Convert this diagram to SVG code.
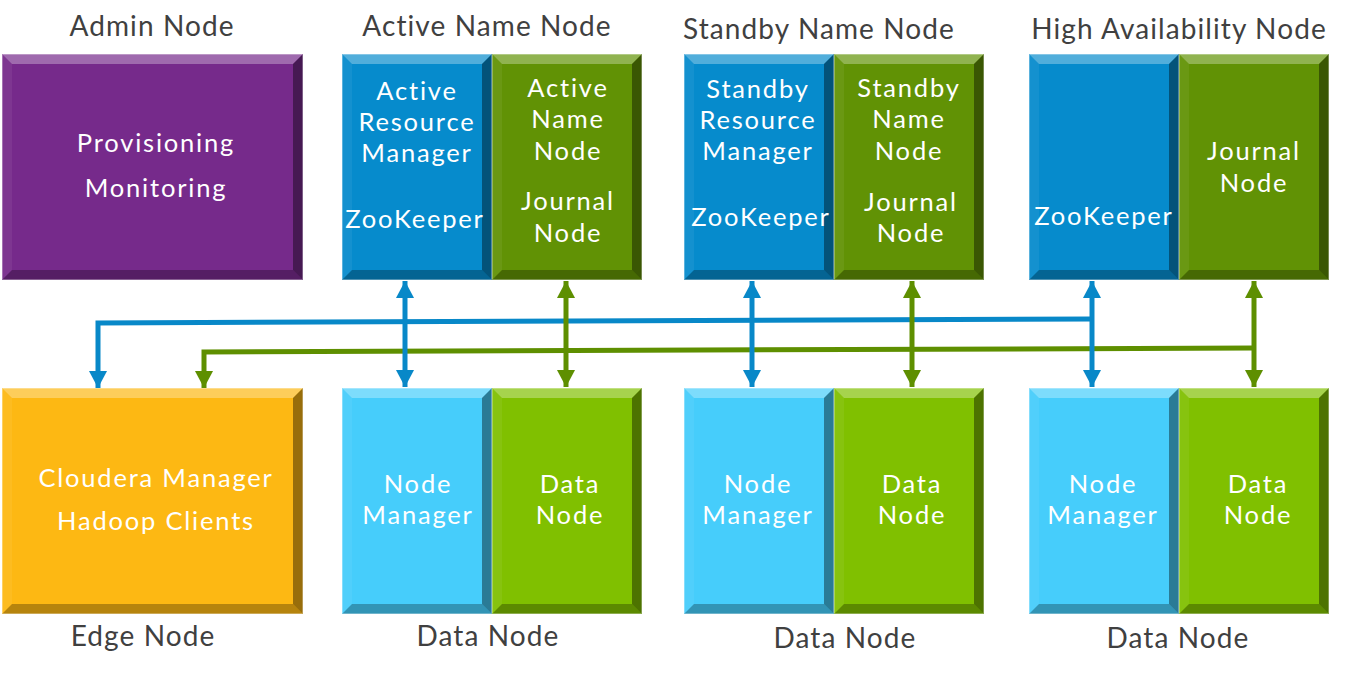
<svg xmlns="http://www.w3.org/2000/svg" xmlns:xlink="http://www.w3.org/1999/xlink" width="1350" height="673" viewBox="0 0 1350 673">
<style>
.t{font-family:Lato,"Open Sans",sans-serif;font-size:28px;letter-spacing:1.1px;fill:#404040;text-anchor:middle}
.w{font-family:Lato,"Open Sans",sans-serif;font-size:25.5px;letter-spacing:1.8px;fill:#ffffff;text-anchor:middle}
.cb{fill:none;stroke:#0888c8;stroke-width:5}
.cg{fill:none;stroke:#5e8f00;stroke-width:5}
</style>
<defs>
<g id="bev150">
<polygon points="0,0 150,0 140,10 10,10" fill="#fff" fill-opacity="0.3"/>
<polygon points="0,0 10,10 10,216 0,226" fill="#fff" fill-opacity="0.06"/>
<polygon points="150,0 150,226 140,216 140,10" fill="#000" fill-opacity="0.4"/>
<polygon points="0,226 10,216 140,216 150,226" fill="#000" fill-opacity="0.28"/>
<rect x="0.5" y="0.5" width="149" height="225" fill="none" stroke="#fff" stroke-opacity="0.3"/>
</g>
<g id="bev301">
<polygon points="0,0 301,0 291,10 10,10" fill="#fff" fill-opacity="0.3"/>
<polygon points="0,0 10,10 10,216 0,226" fill="#fff" fill-opacity="0.06"/>
<polygon points="301,0 301,226 291,216 291,10" fill="#000" fill-opacity="0.4"/>
<polygon points="0,226 10,216 291,216 301,226" fill="#000" fill-opacity="0.28"/>
<rect x="0.5" y="0.5" width="300" height="225" fill="none" stroke="#fff" stroke-opacity="0.3"/>
</g>
<marker id="ab" viewBox="0 0 17 18" refX="17" refY="9" markerWidth="17" markerHeight="18" markerUnits="userSpaceOnUse" orient="auto-start-reverse"><path d="M0,0 L17,9 L0,18 z" fill="#0888c8"/></marker>
<marker id="ag" viewBox="0 0 17 18" refX="17" refY="9" markerWidth="17" markerHeight="18" markerUnits="userSpaceOnUse" orient="auto-start-reverse"><path d="M0,0 L17,9 L0,18 z" fill="#5e8f00"/></marker>
</defs>
<rect width="1350" height="673" fill="#fff"/>

<g id="titles">
<text class="t" x="152" y="36">Admin Node</text>
<text class="t" x="487" y="36">Active Name Node</text>
<text class="t" x="819" y="39">Standby Name Node</text>
<text class="t" x="1179" y="39">High Availability Node</text>
<text class="t" x="143" y="646">Edge Node</text>
<text class="t" x="488" y="646">Data Node</text>
<text class="t" x="845" y="648">Data Node</text>
<text class="t" x="1178" y="648">Data Node</text>
</g>

<g id="connectors">
<polyline class="cb" points="1092,319 98,323 98,388" marker-end="url(#ab)" stroke-linejoin="miter"/>
<polyline class="cg" points="1254,348 204,352 204,388" marker-end="url(#ag)" stroke-linejoin="miter"/>
<line class="cb" x1="405" y1="281" x2="405" y2="387" marker-start="url(#ab)" marker-end="url(#ab)"/>
<line class="cg" x1="566" y1="281" x2="566" y2="387" marker-start="url(#ag)" marker-end="url(#ag)"/>
<line class="cb" x1="752" y1="281" x2="752" y2="387" marker-start="url(#ab)" marker-end="url(#ab)"/>
<line class="cg" x1="912" y1="281" x2="912" y2="387" marker-start="url(#ag)" marker-end="url(#ag)"/>
<line class="cb" x1="1092" y1="281" x2="1092" y2="387" marker-start="url(#ab)" marker-end="url(#ab)"/>
<line class="cg" x1="1254" y1="281" x2="1254" y2="387" marker-start="url(#ag)" marker-end="url(#ag)"/>
</g>

<g id="admin-node">
<rect x="2" y="54" width="301" height="226" fill="#762a8b"/>
<use xlink:href="#bev301" x="2" y="54"/>
<text class="w" x="156" y="152">Provisioning</text>
<text class="w" x="156" y="197">Monitoring</text>
</g>

<g id="active-resource-manager">
<rect x="342" y="54" width="150" height="226" fill="#068bcc"/>
<use xlink:href="#bev150" x="342" y="54"/>
<text class="w" x="417" y="100">Active</text>
<text class="w" x="417" y="131">Resource</text>
<text class="w" x="417" y="162">Manager</text>
<text class="w" x="415" y="228">ZooKeeper</text>
</g>
<g id="active-name-node">
<rect x="492" y="54" width="150" height="226" fill="#619205"/>
<use xlink:href="#bev150" x="492" y="54"/>
<text class="w" x="568" y="97">Active</text>
<text class="w" x="568" y="128">Name</text>
<text class="w" x="568" y="160">Node</text>
<text class="w" x="568" y="210">Journal</text>
<text class="w" x="568" y="242">Node</text>
</g>

<g id="standby-resource-manager">
<rect x="684" y="54" width="150" height="226" fill="#068bcc"/>
<use xlink:href="#bev150" x="684" y="54"/>
<text class="w" x="758" y="98">Standby</text>
<text class="w" x="758" y="129">Resource</text>
<text class="w" x="758" y="160">Manager</text>
<text class="w" x="761" y="226">ZooKeeper</text>
</g>
<g id="standby-name-node">
<rect x="834" y="54" width="150" height="226" fill="#619205"/>
<use xlink:href="#bev150" x="834" y="54"/>
<text class="w" x="909" y="97">Standby</text>
<text class="w" x="909" y="128">Name</text>
<text class="w" x="909" y="160">Node</text>
<text class="w" x="911" y="211">Journal</text>
<text class="w" x="911" y="242">Node</text>
</g>

<g id="ha-zookeeper">
<rect x="1029" y="54" width="150" height="226" fill="#068bcc"/>
<use xlink:href="#bev150" x="1029" y="54"/>
<text class="w" x="1104" y="225">ZooKeeper</text>
</g>
<g id="ha-journal-node">
<rect x="1179" y="54" width="150" height="226" fill="#619205"/>
<use xlink:href="#bev150" x="1179" y="54"/>
<text class="w" x="1254" y="160">Journal</text>
<text class="w" x="1254" y="192">Node</text>
</g>

<g id="edge-node">
<rect x="2" y="388" width="301" height="226" fill="#fdb813"/>
<use xlink:href="#bev301" x="2" y="388"/>
<text class="w" x="156" y="487">Cloudera Manager</text>
<text class="w" x="156" y="530">Hadoop Clients</text>
</g>

<g id="node-manager-1">
<rect x="342" y="388" width="150" height="226" fill="#46cdfb"/>
<use xlink:href="#bev150" x="342" y="388"/>
<text class="w" x="418" y="493">Node</text>
<text class="w" x="418" y="524">Manager</text>
</g>
<g id="data-node-1">
<rect x="492" y="388" width="150" height="226" fill="#80c000"/>
<use xlink:href="#bev150" x="492" y="388"/>
<text class="w" x="570" y="493">Data</text>
<text class="w" x="570" y="524">Node</text>
</g>
<g id="node-manager-2">
<rect x="684" y="388" width="150" height="226" fill="#46cdfb"/>
<use xlink:href="#bev150" x="684" y="388"/>
<text class="w" x="758" y="493">Node</text>
<text class="w" x="758" y="524">Manager</text>
</g>
<g id="data-node-2">
<rect x="834" y="388" width="150" height="226" fill="#80c000"/>
<use xlink:href="#bev150" x="834" y="388"/>
<text class="w" x="912" y="493">Data</text>
<text class="w" x="912" y="524">Node</text>
</g>
<g id="node-manager-3">
<rect x="1029" y="388" width="150" height="226" fill="#46cdfb"/>
<use xlink:href="#bev150" x="1029" y="388"/>
<text class="w" x="1103" y="493">Node</text>
<text class="w" x="1103" y="524">Manager</text>
</g>
<g id="data-node-3">
<rect x="1179" y="388" width="150" height="226" fill="#80c000"/>
<use xlink:href="#bev150" x="1179" y="388"/>
<text class="w" x="1258" y="493">Data</text>
<text class="w" x="1258" y="524">Node</text>
</g>
</svg>
